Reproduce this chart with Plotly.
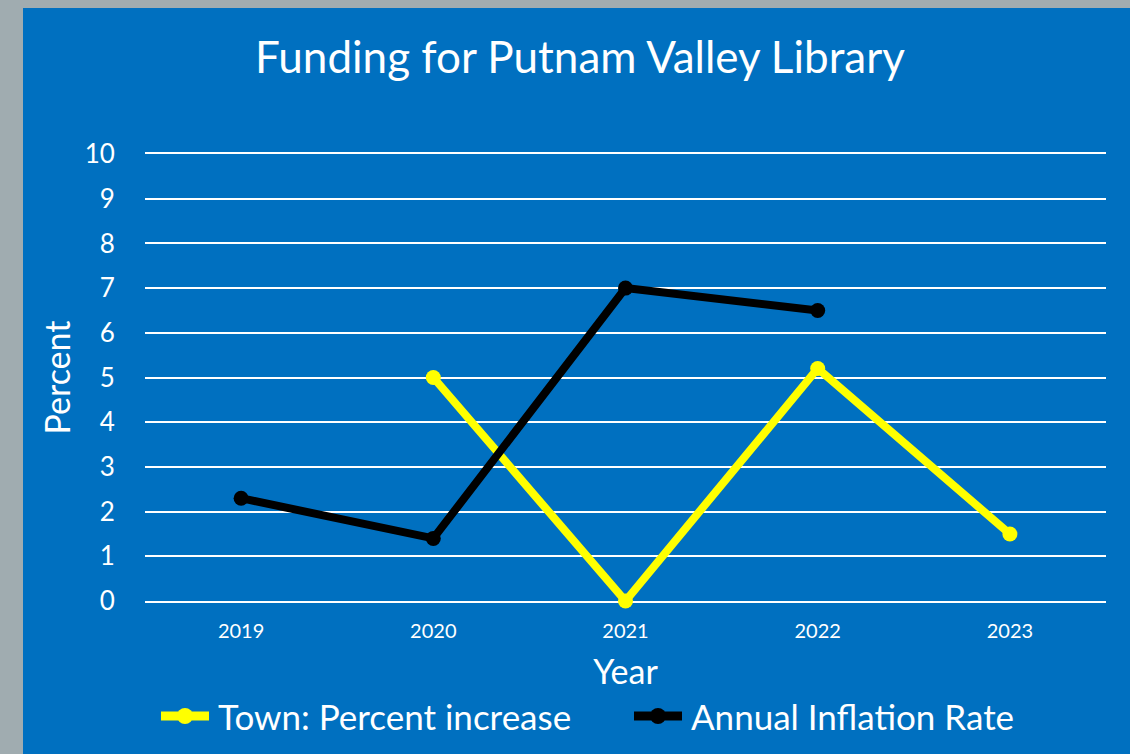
import plotly.graph_objects as go

years = ["2019", "2020", "2021", "2022", "2023"]
town_pct = [None, 5.0, 0.0, 5.2, 1.5]
inflation = [2.3, 1.4, 7.0, 6.5, None]
y_ticks = list(range(0, 11))
series_names = ["Town: Percent increase", "Annual Inflation Rate"]
series_colors = ["#FFFF00", "#000000"]

BLUE = "#0070C0"
GRAY = "#A0ACB0"
FONT = "Lato"

W, H = 1130, 754
L, R, T, B = 145, 24, 154, 153
pw, ph = W - L - R, H - T - B

def px_x(p):
    return (p - L) / pw

def px_y(p):
    return (H - B - p) / ph

fig = go.Figure()
for vals, name, col in zip([town_pct, inflation], series_names, series_colors):
    fig.add_trace(go.Scatter(
        x=years, y=vals, mode="lines+markers", name=name,
        line=dict(color=col, width=8), marker=dict(size=15, color=col),
        connectgaps=False, showlegend=False, cliponaxis=False))

# background panel
fig.add_shape(type="rect", xref="paper", yref="paper",
              x0=px_x(23), x1=px_x(W + 5), y0=px_y(H + 5), y1=px_y(8),
              fillcolor=BLUE, line_width=0, layer="below")

# manual legend (wide line + marker symbol, then label)
legend_items = [(157, 213), (630, 686)]
for (x0, x1), name, col in zip(legend_items, series_names, series_colors):
    ly = px_y(716)
    fig.add_shape(type="line", xref="paper", yref="paper",
                  x0=px_x(x0 + 4), x1=px_x(x1 - 4), y0=ly, y1=ly,
                  line=dict(color=col, width=9))
    cx = (x0 + x1) / 2
    fig.add_shape(type="circle", xref="paper", yref="paper",
                  x0=px_x(cx - 8), x1=px_x(cx + 8),
                  y0=ly - 8 / ph, y1=ly + 8 / ph,
                  fillcolor=col, line_width=0)
    fig.add_annotation(text=name, xref="paper", yref="paper",
                       x=px_x(x1 + 3), y=px_y(716), xanchor="left", yanchor="middle",
                       showarrow=False, font=dict(size=35, color="white", family=FONT))

fig.update_layout(
    width=W, height=H,
    margin=dict(l=L, r=R, t=T, b=B),
    paper_bgcolor=GRAY, plot_bgcolor="rgba(0,0,0,0)",
    font=dict(family=FONT, color="white"),
    title=dict(text="Funding for Putnam Valley Library", x=px_x(580), xref="paper",
               xanchor="center", y=1 - 58 / H, yanchor="middle",
               font=dict(size=44, color="white", family=FONT)),
    xaxis=dict(type="category", range=[-0.5, 4.5], showgrid=False, zeroline=False,
               showline=True, mirror=True, linecolor="white", linewidth=2,
               layer="below traces",
               ticks="outside", ticklen=11, tickcolor="rgba(0,0,0,0)",
               tickfont=dict(size=20, color="white"),
               title=dict(text="Year", font=dict(size=34, color="white"), standoff=19)),
    yaxis=dict(range=[0, 10], tickvals=y_ticks, showgrid=True, gridcolor="white",
               gridwidth=2, zeroline=False, showline=False, layer="below traces",
               ticks="outside", ticklen=24, tickcolor="rgba(0,0,0,0)",
               tickfont=dict(size=26, color="white"),
               title=dict(text="Percent", font=dict(size=34, color="white"), standoff=3)),
    showlegend=False,
)

fig.write_html("out.html", config={"displayModeBar": False},
               post_script="document.body.style.margin='0px';")
